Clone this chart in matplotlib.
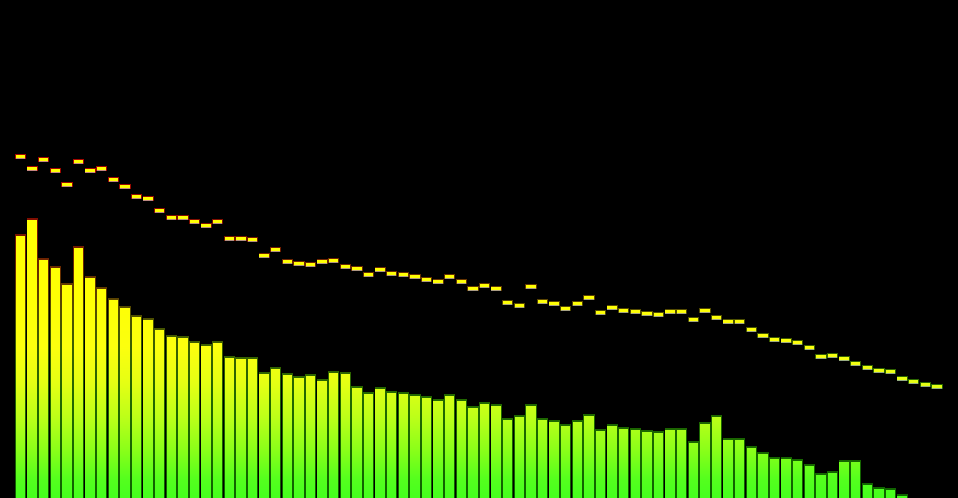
import numpy as np
import matplotlib.pyplot as plt
from matplotlib.colors import LinearSegmentedColormap
from matplotlib.path import Path
from matplotlib.patches import PathPatch

# bar levels and peak-hold levels (canvas px from the bottom)
levels = [264, 280, 240, 232, 215, 252, 222, 211, 200, 192,
          183, 180, 170, 163, 162, 157, 154, 157, 142, 141,
          141, 126, 131, 125, 122, 124, 119, 127, 126, 112,
          106, 111, 107, 106, 104, 102, 99, 104, 99, 92,
          96, 94, 80, 83, 94, 80, 78, 74, 78, 84,
          69, 74, 71, 70, 68, 67, 70, 70, 57, 76,
          83, 60, 60, 52, 46, 41, 41, 39, 34, 25,
          27, 38, 38, 15, 11, 10, 4, 0, 0, 0]
peaks = [344, 332, 341, 330, 316, 339, 330, 332, 321, 314,
         304, 302, 290, 283, 283, 279, 275, 279, 262, 262,
         261, 245, 251, 239, 237, 236, 239, 240, 234, 232,
         226, 231, 227, 226, 224, 221, 219, 224, 219, 212,
         215, 212, 198, 195, 214, 199, 197, 192, 197, 203,
         188, 193, 190, 189, 187, 186, 189, 189, 181, 190,
         183, 179, 179, 171, 165, 161, 160, 158, 153, 144,
         145, 142, 137, 133, 130, 129, 122, 119, 116, 114]

W, H = 958, 498
pitch = 11.6

fill_cmap = LinearSegmentedColormap.from_list("fill", [
    (0.0, "#46ff1e"), (18/H, "#55ff1e"), (48/H, "#8cff19"),
    (81/H, "#beff19"), (115/H, "#e6ff14"), (150/H, "#fcff0f"),
    (200/H, "#ffff05"), (1.0, "#ffff00")])
edge_cmap = LinearSegmentedColormap.from_list("edge", [
    (0.0, "#0f6400"), (100/H, "#226800"), (150/H, "#3a6000"),
    (190/H, "#554a00"), (230/H, "#6a2a00"), (270/H, "#7a1000"),
    (320/H, "#a00800"), (1.0, "#c80000")])

fig = plt.figure(figsize=(W / 100, H / 100), dpi=100, facecolor="black")
ax = fig.add_axes([0, 0, 1, 1])
ax.set_facecolor("black")
x0 = -0.48 - 15 / pitch
ax.set_xlim(x0, x0 + W / pitch)
ax.set_ylim(0, H)
ax.axis("off")

x = np.arange(len(levels))
lv = np.array(levels, dtype=float)
pk = np.array(peaks, dtype=float)
grad = np.linspace(0, 1, 256).reshape(-1, 1)


def paint(bars, cmap):
    paths = [b.get_path().transformed(b.get_patch_transform()) for b in bars]
    clip = PathPatch(Path.make_compound_path(*paths), transform=ax.transData)
    im = ax.imshow(grad, cmap=cmap, origin="lower", aspect="auto",
                   extent=[x0, x0 + W / pitch, 0, H], interpolation="bilinear")
    im.set_clip_path(clip)


outer_w = 11.2 / pitch
inner_w = 9.4 / pitch

# bars
outer = ax.bar(x, lv, width=outer_w, color="none", linewidth=0)
paint(outer, edge_cmap)
inner = ax.bar(x, np.clip(lv - 1.6, 0, None), width=inner_w, color="none", linewidth=0)
paint(inner, fill_cmap)

# peak markers
pouter = ax.bar(x, 5.2, bottom=pk - 5.2, width=outer_w, color="none", linewidth=0)
paint(pouter, edge_cmap)
pinner = ax.bar(x, 3.0, bottom=pk - 4.2, width=inner_w, color="none", linewidth=0)
paint(pinner, fill_cmap)
ax.bar(x, 1.1, bottom=pk - 5.2, width=inner_w, color="#dcdcdc", alpha=0.6, linewidth=0)

fig.savefig("out.png", dpi=100, facecolor="black")
